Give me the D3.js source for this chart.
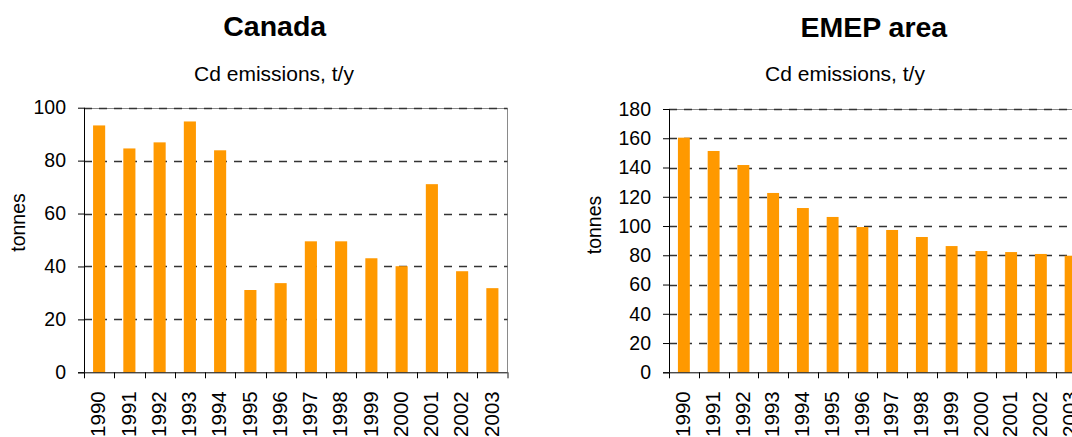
<!DOCTYPE html>
<html>
<head>
<meta charset="utf-8">
<script src="https://cdn.jsdelivr.net/npm/d3@7"></script>
<style>
  html, body { margin: 0; padding: 0; background: #fff; overflow: hidden; }
  svg { display: block; font-family: "Liberation Sans", Arial, sans-serif; }
</style>
</head>
<body>
<svg id="chart" width="1072" height="437"></svg>
<script>
const years = ["1990","1991","1992","1993","1994","1995","1996","1997","1998","1999","2000","2001","2002","2003"];
const canadaValues = [93.3, 84.6, 86.9, 94.8, 83.9, 31.1, 33.7, 49.5, 49.5, 43.1, 40.1, 71.1, 38.2, 31.8];
const emepValues = [160.4, 151.3, 141.7, 122.6, 112.3, 106.2, 99.3, 97.3, 92.5, 86.3, 82.9, 82.2, 80.9, 79.7];
const canadaTicks = [0, 20, 40, 60, 80, 100];
const emepTicks = [0, 20, 40, 60, 80, 100, 120, 140, 160, 180];
const chartTitles = ["Canada", "EMEP area"];
const subtitleText = "Cd emissions, t/y";
const yAxisLabel = "tonnes";

const svg = d3.select("#chart");
const BAR = "#FF9900";

function drawChart(opt) {
  const g = svg.append("g");
  const x = d3.scaleBand().domain(years).range([opt.left, opt.right]).paddingInner(0.6).paddingOuter(0.3);
  const xEdge = d3.scaleLinear().domain([0, years.length]).range([opt.left, opt.right]);
  const y = d3.scaleLinear().domain([0, d3.max(opt.ticks)]).range([opt.bottom, opt.top]);

  // plot border (top & right)
  g.append("path")
    .attr("d", `M${opt.left},${Math.round(y(d3.max(opt.ticks))) + 0.5}H${opt.right}V${opt.bottom + 6}`)
    .attr("fill", "none").attr("stroke", "#8a8a8a").attr("stroke-width", 1);

  // gridlines
  g.selectAll("line.grid").data(opt.ticks.filter(t => t > 0)).join("line")
    .attr("class", "grid")
    .attr("x1", opt.left).attr("x2", opt.right)
    .attr("y1", d => Math.round(y(d)) + 0.5).attr("y2", d => Math.round(y(d)) + 0.5)
    .attr("stroke", "#333").attr("stroke-width", 1.3)
    .attr("stroke-dasharray", "8,7");

  // bars
  g.selectAll("rect.bar").data(opt.values).join("rect")
    .attr("class", "bar")
    .attr("x", (d, i) => x(years[i]))
    .attr("width", x.bandwidth())
    .attr("y", d => y(d))
    .attr("height", d => y(0) - y(d))
    .attr("fill", BAR);

  // y axis
  const yAxis = d3.axisLeft(y).tickValues(opt.ticks).tickSize(6).tickPadding(12).tickFormat(d3.format("d"));
  const ya = g.append("g").attr("transform", `translate(${opt.left},0)`).call(yAxis);
  ya.select(".domain").attr("stroke", "#000").attr("d", `M0.5,${opt.top}V${opt.bottom}`);
  ya.selectAll(".tick line").attr("stroke", "#000");
  ya.selectAll(".tick text").attr("font-size", 19.5).attr("fill", "#000")
    .attr("font-family", "Liberation Sans, Arial, sans-serif");

  // x axis line and ticks at category boundaries
  g.append("line").attr("x1", opt.left - 6).attr("x2", opt.right)
    .attr("y1", opt.bottom + 0.5).attr("y2", opt.bottom + 0.5).attr("stroke", "#000");
  g.selectAll("line.xt").data(d3.range(years.length + 1)).join("line")
    .attr("class", "xt")
    .attr("x1", d => Math.round(xEdge(d)) + 0.5).attr("x2", d => Math.round(xEdge(d)) + 0.5)
    .attr("y1", opt.bottom).attr("y2", opt.bottom + 6)
    .attr("stroke", d => d === years.length ? "#8a8a8a" : "#000");

  // x labels
  g.selectAll("text.xl").data(years).join("text")
    .attr("class", "xl")
    .attr("transform", d => `translate(${x(d) + x.bandwidth() / 2 - 1},${opt.bottom + 19}) rotate(-90)`)
    .attr("dy", "0.35em")
    .attr("text-anchor", "end")
    .attr("font-size", 20.5)
    .attr("fill", "#000")
    .text(d => d);

  // y label
  g.append("text")
    .attr("transform", `translate(${opt.ylabX},${opt.ylabY}) rotate(-90)`)
    .attr("text-anchor", "middle")
    .attr("font-size", 19.5)
    .text(yAxisLabel);

  // titles
  g.append("text").attr("x", opt.titleX).attr("y", opt.titleY)
    .attr("text-anchor", "middle").attr("font-size", 28.5).attr("font-weight", "bold")
    .text(opt.title);
  g.append("text").attr("x", opt.subX).attr("y", opt.subY)
    .attr("text-anchor", "middle").attr("font-size", 21)
    .text(subtitleText);
}

drawChart({
  left: 84, right: 507.5, top: 107.7, bottom: 372.3,
  values: canadaValues, ticks: canadaTicks, title: chartTitles[0],
  titleX: 274.7, titleY: 36, subX: 274, subY: 81,
  ylabX: 25, ylabY: 222.5
});

drawChart({
  left: 669, right: 1085.5, top: 109, bottom: 372.3,
  values: emepValues, ticks: emepTicks, title: chartTitles[1],
  titleX: 873.8, titleY: 36.5, subX: 845, subY: 80.5,
  ylabX: 601, ylabY: 225
});
</script>
</body>
</html>
